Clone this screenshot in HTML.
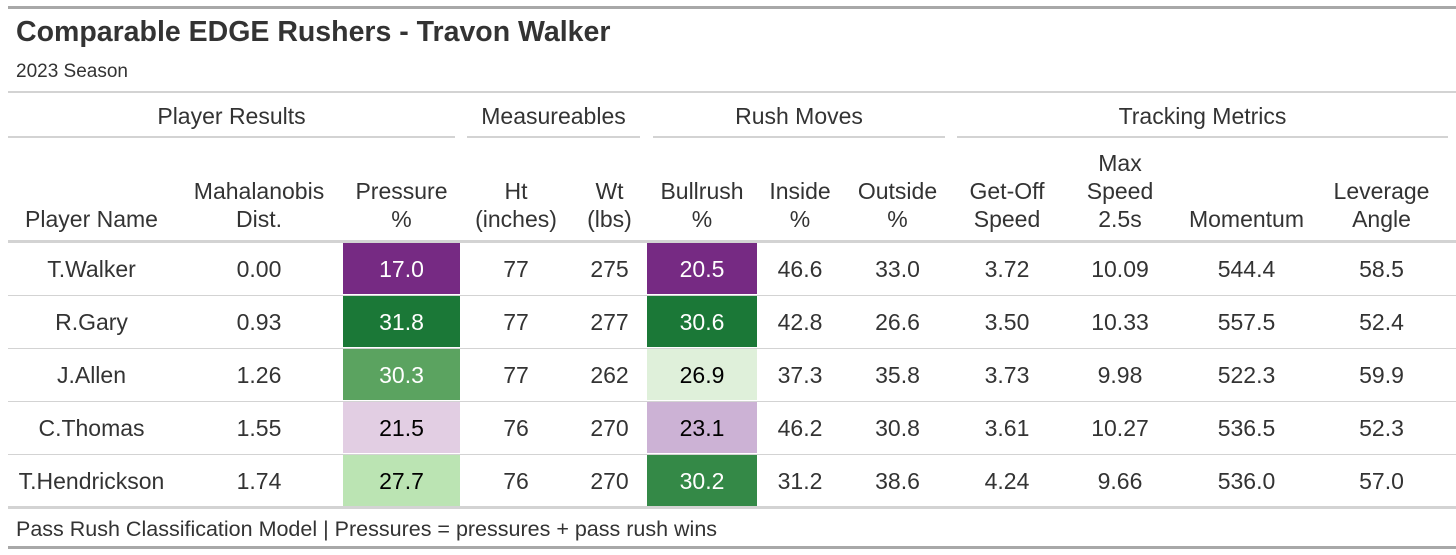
<!DOCTYPE html>
<html><head><meta charset="utf-8"><style>
body{margin:0;width:1456px;height:555px;background:#fff;font-family:"Liberation Sans",sans-serif;color:#333;position:relative;overflow:hidden}
.a{position:absolute;white-space:nowrap}
.l{position:absolute;background:#d3d3d3}
.c{position:absolute;text-align:center;font-size:23px;line-height:28px;white-space:nowrap}
</style></head><body>
<div class="l" style="left:8px;top:6px;width:1448px;height:3px;background:#a8a8a8"></div>
<div class="a" style="left:16px;top:16px;font-size:28.5px;font-weight:bold;color:#333">Comparable EDGE Rushers - Travon Walker</div>
<div class="a" style="left:16px;top:61px;font-size:19px">2023 Season</div>
<div class="l" style="left:8px;top:91px;width:1448px;height:2px"></div>
<div id="spanners"></div>
<div id="tbl"></div>
<div class="l" style="left:8px;top:240px;width:1448px;height:3px"></div>
<div class="l" style="left:8px;top:506px;width:1448px;height:3px"></div>
<div class="a" style="left:16px;top:517px;font-size:21.5px">Pass Rush Classification Model | Pressures = pressures + pass rush wins</div>
<div class="l" style="left:8px;top:546px;width:1448px;height:3px;background:#a8a8a8"></div>
<script>
const players=["T.Walker","R.Gary","J.Allen","C.Thomas","T.Hendrickson"];
const maha=["0.00","0.93","1.26","1.55","1.74"];
const pressure=[17.0,31.8,30.3,21.5,27.7];
const ht=["77","77","77","76","76"];
const wt=["275","277","262","270","270"];
const bullrush=[20.5,30.6,26.9,23.1,30.2];
const inside=["46.6","42.8","37.3","46.2","31.2"];
const outside=["33.0","26.6","35.8","30.8","38.6"];
const getoff=["3.72","3.50","3.73","3.61","4.24"];
const maxspeed=["10.09","10.33","9.98","10.27","9.66"];
const momentum=["544.4","557.5","522.3","536.5","536.0"];
const leverage=["58.5","52.4","59.9","52.3","57.0"];
const headers=["Player Name","Mahalanobis<br>Dist.","Pressure<br>%","Ht<br>(inches)","Wt<br>(lbs)","Bullrush<br>%","Inside<br>%","Outside<br>%","Get-Off<br>Speed","Max<br>Speed<br>2.5s","Momentum","Leverage<br>Angle"];
const bounds=[8,175,343,460,572,647,757,843,952,1062,1178,1315,1448];
const spanners=[["Player Results",8,455],["Measureables",467,640],["Rush Moves",653,945],["Tracking Metrics",957,1448]];
const cols=[players,maha,pressure,ht,wt,bullrush,inside,outside,getoff,maxspeed,momentum,leverage];
const names=["player-name","mahalanobis","pressure","height","weight","bullrush","inside","outside","get-off","max-speed","momentum","leverage"];
function pal(v,lo,hi){
  const stops=[[0,[118,42,131]],[0.2,[175,141,195]],[0.3,[226,205,227]],[0.5,[247,247,247]],[0.63,[224,240,220]],[0.72,[189,229,180]],[0.9,[90,162,95]],[1,[27,120,55]]];
  let t=(v-lo)/(hi-lo);t=Math.max(0,Math.min(1,t));
  for(let i=0;i<stops.length-1;i++){const[a,ca]=stops[i],[b,cb]=stops[i+1];if(t<=b){const f=(t-a)/(b-a);return ca.map((x,k)=>Math.round(x+(cb[k]-x)*f));}}
  return stops[stops.length-1][1];
}
const S=document.getElementById('spanners');
spanners.forEach(s=>{
  const d=document.createElement('div');d.className='c';d.style.cssText=`left:${s[1]}px;width:${s[2]-s[1]}px;top:102px`;d.textContent=s[0];
  
  
  S.appendChild(d);
  const l=document.createElement('div');l.className='l';l.style.cssText=`left:${s[1]}px;width:${s[2]-s[1]}px;top:136px;height:2px`;
  
  
  S.appendChild(l);
});
const T=document.getElementById('tbl');
const rowTop=r=>243+r*53;
headers.forEach((h,i)=>{
  const d=document.createElement('div');d.className='c';
  const n=h.split('<br>').length;
  d.style.cssText=`left:${bounds[i]}px;width:${bounds[i+1]-bounds[i]}px;top:${233-n*28}px`;d.innerHTML=h;
  
  
  T.appendChild(d);
});
for(let r=0;r<players.length;r++){
  if(r>0){const l=document.createElement('div');l.className='l';l.style.cssText=`left:8px;width:1448px;top:${rowTop(r)-1}px;height:1px`;
    
    
    T.appendChild(l);}
  cols.forEach((col,i)=>{
    const d=document.createElement('div');d.className='c';
    let v=col[r];
    let st=`left:${bounds[i]}px;width:${bounds[i+1]-bounds[i]}px;top:${rowTop(r)}px;height:51px;line-height:53px;`;
    if(i===2||i===5){
      const lo=i===2?Math.min(...pressure):Math.min(...bullrush),hi=i===2?Math.max(...pressure):Math.max(...bullrush);
      const c=pal(v,lo,hi);const lum=(0.299*c[0]+0.587*c[1]+0.114*c[2]);
      st+=`background:rgb(${c});color:${lum<150?'#fff':'#000'};`;v=v.toFixed(1);
    }
    d.style.cssText=st;d.textContent=v;
    
    
    T.appendChild(d);
  });
}
</script>
</body></html>
